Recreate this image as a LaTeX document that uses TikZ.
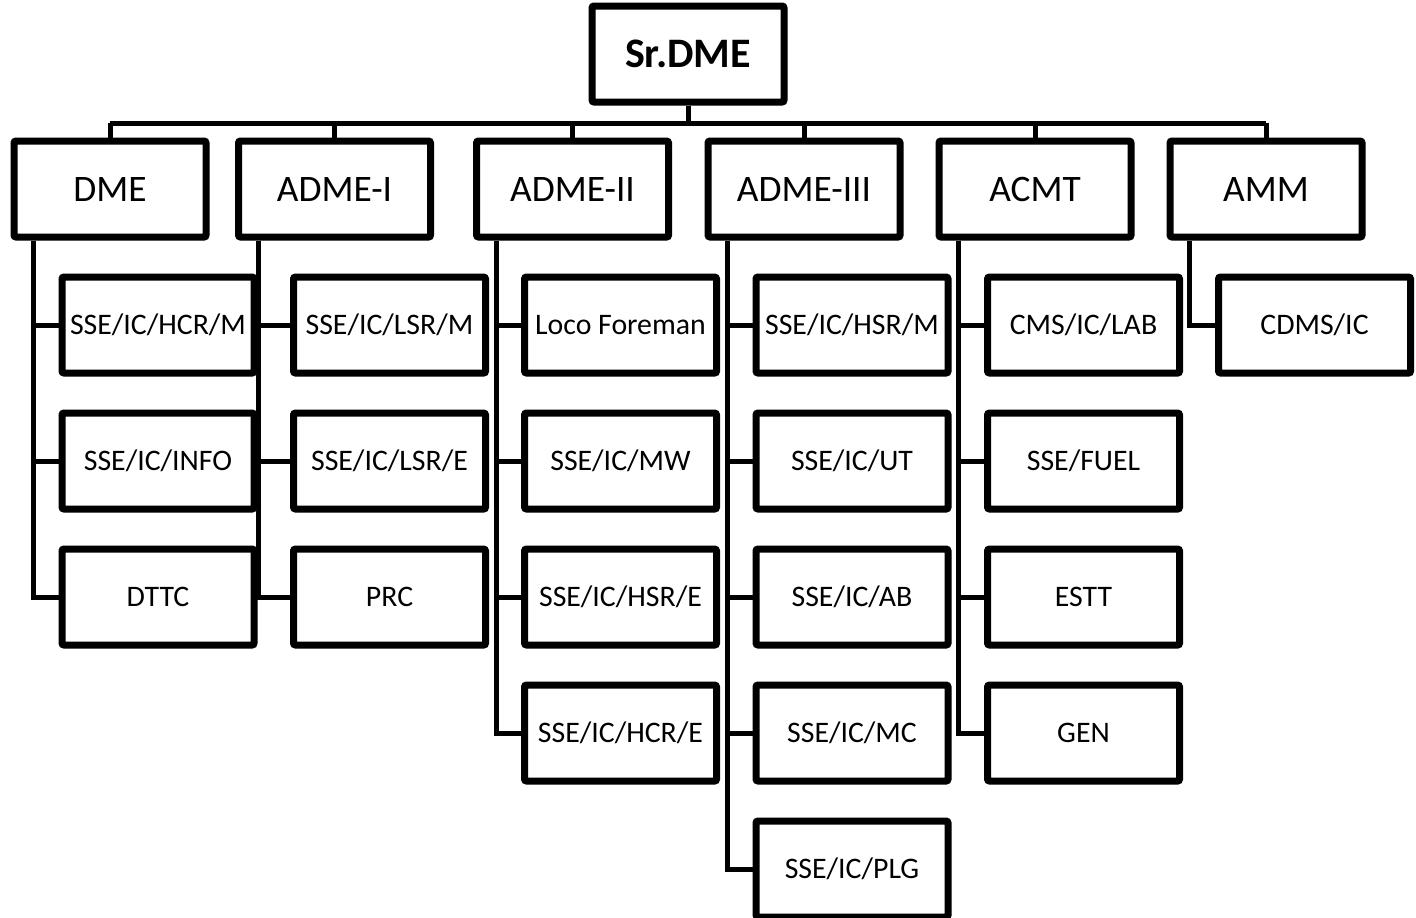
\documentclass[tikz,border=0pt]{standalone}
\usepackage{fontspec}
\setmainfont{Carlito}
\usetikzlibrary{shadows,backgrounds}
\begin{document}
\begin{tikzpicture}[x=0.5pt,y=-0.5pt,
  box/.style={draw=black, fill=white, line width=3.5pt, rounded corners=1pt,
    minimum width=96pt, minimum height=48pt, inner sep=0pt, align=center,
    drop shadow={opacity=0.25, shadow xshift=1.5pt, shadow yshift=-1.5pt}},
  topbox/.style={box, font=\fontsize{21}{24}\selectfont\bfseries},
  headbox/.style={box, font=\fontsize{18.7}{22}\selectfont},
  childbox/.style={box, font=\fontsize{14.9}{18}\selectfont},
  conn/.style={draw=black, line width=2.5pt}]
\useasboundingbox (0,0) rectangle (1416,917);
% top
\node[topbox] (top) at (688,54) {Sr.DME};
% level 1
\node[headbox] (h1) at (110,189) {DME};
\node[headbox] (h2) at (334.5,189) {ADME-I};
\node[headbox] (h3) at (572.5,189) {ADME-II};
\node[headbox] (h4) at (804,189) {ADME-III};
\node[headbox] (h5) at (1035,189) {ACMT};
\node[headbox] (h6) at (1266,189) {AMM};
% children
\node[childbox] (c11) at (158,325) {SSE/IC/HCR/M};
\node[childbox] (c12) at (158,461) {SSE/IC/INFO};
\node[childbox] (c13) at (158,597) {DTTC};
\node[childbox] (c21) at (389.5,325) {SSE/IC/LSR/M};
\node[childbox] (c22) at (389.5,461) {SSE/IC/LSR/E};
\node[childbox] (c23) at (389.5,597) {PRC};
\node[childbox] (c31) at (620.5,325) {Loco Foreman};
\node[childbox] (c32) at (620.5,461) {SSE/IC/MW};
\node[childbox] (c33) at (620.5,597) {SSE/IC/HSR/E};
\node[childbox] (c34) at (620.5,733) {SSE/IC/HCR/E};
\node[childbox] (c41) at (852,325) {SSE/IC/HSR/M};
\node[childbox] (c42) at (852,461) {SSE/IC/UT};
\node[childbox] (c43) at (852,597) {SSE/IC/AB};
\node[childbox] (c44) at (852,733) {SSE/IC/MC};
\node[childbox] (c45) at (852,869) {SSE/IC/PLG};
\node[childbox] (c51) at (1083.5,325) {CMS/IC/LAB};
\node[childbox] (c52) at (1083.5,461) {SSE/FUEL};
\node[childbox] (c53) at (1083.5,597) {ESTT};
\node[childbox] (c54) at (1083.5,733) {GEN};
\node[childbox] (c61) at (1314.5,325) {CDMS/IC};
\coordinate (busy) at (688,123);
\begin{pgfonlayer}{background}
  \draw[conn] (top.south) -- (top.south |- busy);
  \draw[conn] (h1.north |- busy) -- (h6.north |- busy);
  \foreach \h in {h1,h2,h3,h4,h5,h6} {\draw[conn] (\h.north) -- (\h.north |- busy);}
  \coordinate (v1) at ([xshift=11.5pt]h1.south west);
  \coordinate (v2) at ([xshift=11.5pt]h2.south west);
  \coordinate (v3) at ([xshift=11.5pt]h3.south west);
  \coordinate (v4) at ([xshift=11.5pt]h4.south west);
  \coordinate (v5) at ([xshift=11.5pt]h5.south west);
  \coordinate (v6) at ([xshift=11.5pt]h6.south west);
  \draw[conn] (v1) |- (c13.west);
  \draw[conn] (v1 |- c11.west) -- (c11.west);
  \draw[conn] (v1 |- c12.west) -- (c12.west);
  \draw[conn] (v2) |- (c23.west);
  \draw[conn] (v2 |- c21.west) -- (c21.west);
  \draw[conn] (v2 |- c22.west) -- (c22.west);
  \draw[conn] (v3) |- (c34.west);
  \draw[conn] (v3 |- c31.west) -- (c31.west);
  \draw[conn] (v3 |- c32.west) -- (c32.west);
  \draw[conn] (v3 |- c33.west) -- (c33.west);
  \draw[conn] (v4) |- (c45.west);
  \draw[conn] (v4 |- c41.west) -- (c41.west);
  \draw[conn] (v4 |- c42.west) -- (c42.west);
  \draw[conn] (v4 |- c43.west) -- (c43.west);
  \draw[conn] (v4 |- c44.west) -- (c44.west);
  \draw[conn] (v5) |- (c54.west);
  \draw[conn] (v5 |- c51.west) -- (c51.west);
  \draw[conn] (v5 |- c52.west) -- (c52.west);
  \draw[conn] (v5 |- c53.west) -- (c53.west);
  \draw[conn] (v6) |- (c61.west);
\end{pgfonlayer}
\end{tikzpicture}
\end{document}
